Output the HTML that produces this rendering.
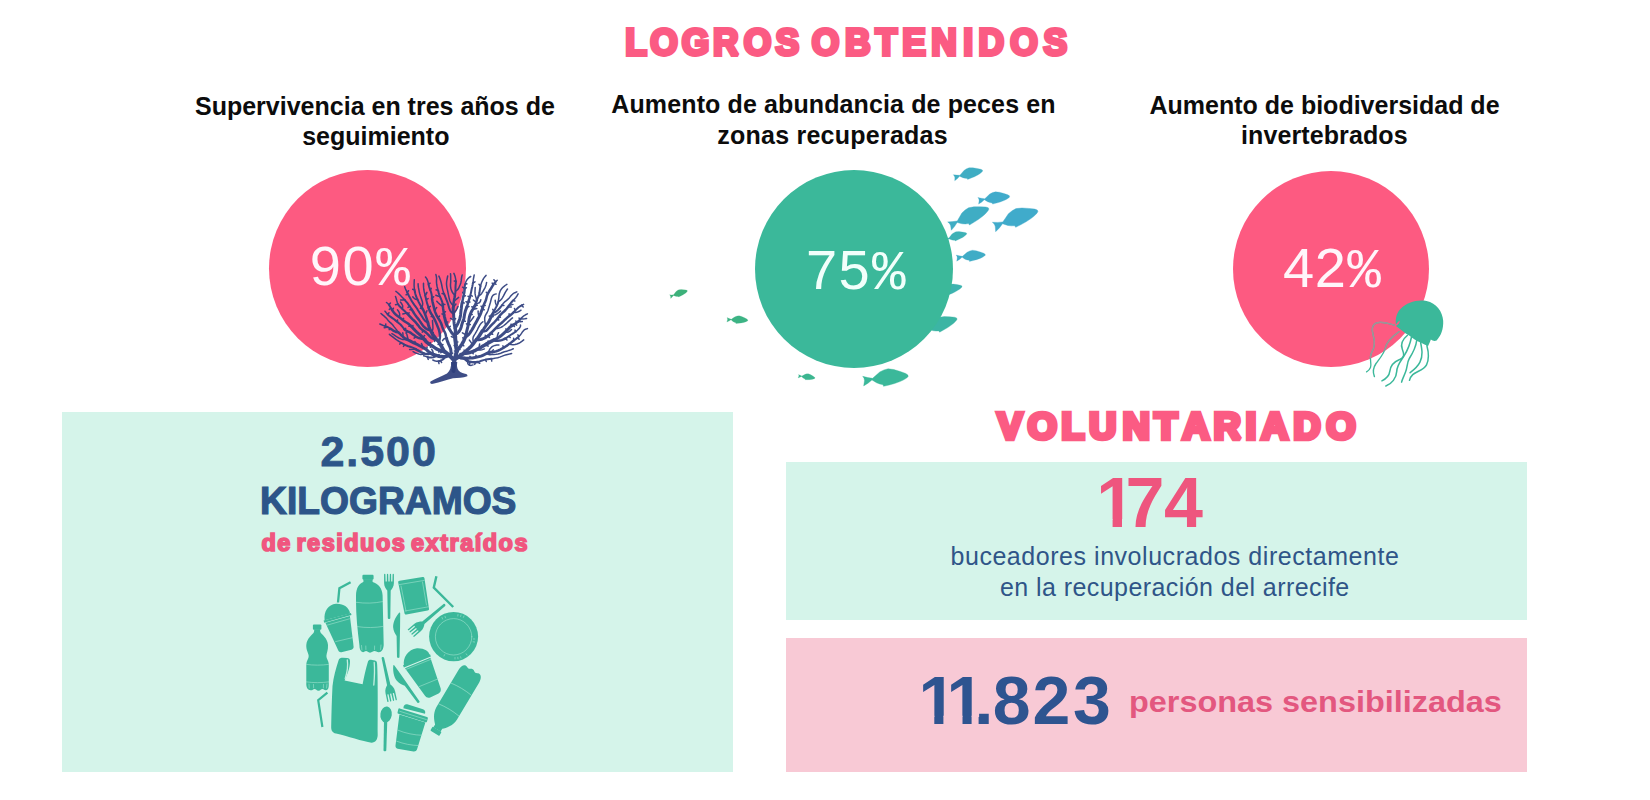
<!DOCTYPE html>
<html lang="es">
<head>
<meta charset="utf-8">
<title>Logros obtenidos</title>
<style>
html,body{margin:0;padding:0;background:#fff;}
body{width:1650px;height:800px;position:relative;overflow:hidden;font-family:"Liberation Sans",sans-serif;}
.abs{position:absolute;}
.t{position:absolute;white-space:nowrap;line-height:1;margin:0;padding:0;transform-origin:0 0;}
.box{position:absolute;}
.circ{position:absolute;border-radius:50%;}
.h{font-weight:bold;color:#fb5b83;-webkit-text-stroke:1.2px #fb5b83;}
.sub{font-weight:bold;color:#0c0c0c;font-size:25px;}
.pct{color:#fff5fa;font-size:56px;}
.pct i{font-style:normal;font-family:"Liberation Mono",monospace;letter-spacing:0;}
</style>
</head>
<body>
<!-- boxes -->
<div class="box" id="boxL" style="left:62px;top:412px;width:671px;height:360px;background:#d5f4ea;"></div>
<div class="box" id="boxR1" style="left:786px;top:462px;width:741px;height:158px;background:#d5f4ea;"></div>
<div class="box" id="boxR2" style="left:786px;top:638px;width:741px;height:134px;background:#f8c9d5;"></div>

<svg class="abs" id="fish" style="left:0;top:0" width="1650" height="800" viewBox="0 0 1650 800">
<path d="M0.0,0.0L11.3,2.9L21.8,4.5L28.6,-1.5L37.6,-9.7L46.8,-14.1L56.0,-16.6L68.7,-14.9L82.9,-10.5L94.9,-6.1L99.6,-2.8L100.1,0.6L96.9,3.8L89.3,8.4L82.1,11.6L70.2,15.9L58.6,19.1L45.9,22.1L44.8,18.4L37.4,16.9L30.4,14.2L20.4,8.0L11.7,15.2L2.1,21.1L3.4,13.3L3.9,9.1L2.8,4.5Z" fill="#3fadc3" stroke="#3fadc3" stroke-width="0.8" stroke-linejoin="round" transform="translate(953.3,174.7) rotate(-7.4) scale(0.296)"/>
<path d="M0.0,0.0L11.3,2.9L21.8,4.5L28.6,-1.5L37.6,-9.7L46.8,-14.1L56.0,-16.6L68.7,-14.9L82.9,-10.5L94.9,-6.1L99.6,-2.8L100.1,0.6L96.9,3.8L89.3,8.4L82.1,11.6L70.2,15.9L58.6,19.1L45.9,22.1L44.8,18.4L37.4,16.9L30.4,14.2L20.4,8.0L11.7,15.2L2.1,21.1L3.4,13.3L3.9,9.1L2.8,4.5Z" fill="#40abcb" stroke="#40abcb" stroke-width="0.8" stroke-linejoin="round" transform="translate(977.8,197.4) rotate(-1.2) scale(0.318)"/>
<path d="M0.0,0.0L11.3,2.9L21.8,4.5L28.6,-1.5L37.6,-9.7L46.8,-14.1L56.0,-16.6L68.7,-14.9L82.9,-10.5L94.9,-6.1L99.6,-2.8L100.1,0.6L96.9,3.8L89.3,8.4L82.1,11.6L70.2,15.9L58.6,19.1L45.9,22.1L44.8,18.4L37.4,16.9L30.4,14.2L20.4,8.0L11.7,15.2L2.1,21.1L3.4,13.3L3.9,9.1L2.8,4.5Z" fill="#3fadc4" stroke="#3fadc4" stroke-width="0.8" stroke-linejoin="round" transform="translate(947.7,221.9) rotate(-17.6) scale(0.431)"/>
<path d="M0.0,0.0L11.3,2.9L21.8,4.5L28.6,-1.5L37.6,-9.7L46.8,-14.1L56.0,-16.6L68.7,-14.9L82.9,-10.5L94.9,-6.1L99.6,-2.8L100.1,0.6L96.9,3.8L89.3,8.4L82.1,11.6L70.2,15.9L58.6,19.1L45.9,22.1L44.8,18.4L37.4,16.9L30.4,14.2L20.4,8.0L11.7,15.2L2.1,21.1L3.4,13.3L3.9,9.1L2.8,4.5Z" fill="#40abcb" stroke="#40abcb" stroke-width="0.8" stroke-linejoin="round" transform="translate(992.4,222.3) rotate(-13.6) scale(0.467)"/>
<path d="M0.0,0.0L11.3,2.9L21.8,4.5L28.6,-1.5L37.6,-9.7L46.8,-14.1L56.0,-16.6L68.7,-14.9L82.9,-10.5L94.9,-6.1L99.6,-2.8L100.1,0.6L96.9,3.8L89.3,8.4L82.1,11.6L70.2,15.9L58.6,19.1L45.9,22.1L44.8,18.4L37.4,16.9L30.4,14.2L20.4,8.0L11.7,15.2L2.1,21.1L3.4,13.3L3.9,9.1L2.8,4.5Z" fill="#3eb1b6" stroke="#3eb1b6" stroke-width="0.8" stroke-linejoin="round" transform="translate(943.7,237.8) rotate(-10) scale(0.234)"/>
<path d="M0.0,0.0L11.3,2.9L21.8,4.5L28.6,-1.5L37.6,-9.7L46.8,-14.1L56.0,-16.6L68.7,-14.9L82.9,-10.5L94.9,-6.1L99.6,-2.8L100.1,0.6L96.9,3.8L89.3,8.4L82.1,11.6L70.2,15.9L58.6,19.1L45.9,22.1L44.8,18.4L37.4,16.9L30.4,14.2L20.4,8.0L11.7,15.2L2.1,21.1L3.4,13.3L3.9,9.1L2.8,4.5Z" fill="#40acc6" stroke="#40acc6" stroke-width="0.8" stroke-linejoin="round" transform="translate(956.1,255.0) rotate(0) scale(0.292)"/>
<path d="M0.0,0.0L11.3,2.9L21.8,4.5L28.6,-1.5L37.6,-9.7L46.8,-14.1L56.0,-16.6L68.7,-14.9L82.9,-10.5L94.9,-6.1L99.6,-2.8L100.1,0.6L96.9,3.8L89.3,8.4L82.1,11.6L70.2,15.9L58.6,19.1L45.9,22.1L44.8,18.4L37.4,16.9L30.4,14.2L20.4,8.0L11.7,15.2L2.1,21.1L3.4,13.3L3.9,9.1L2.8,4.5Z" fill="#3db3af" stroke="#3db3af" stroke-width="0.8" stroke-linejoin="round" transform="translate(935.9,291.1) rotate(-10) scale(0.265)"/>
<path d="M0.0,0.0L11.3,2.9L21.8,4.5L28.6,-1.5L37.6,-9.7L46.8,-14.1L56.0,-16.6L68.7,-14.9L82.9,-10.5L94.9,-6.1L99.6,-2.8L100.1,0.6L96.9,3.8L89.3,8.4L82.1,11.6L70.2,15.9L58.6,19.1L45.9,22.1L44.8,18.4L37.4,16.9L30.4,14.2L20.4,8.0L11.7,15.2L2.1,21.1L3.4,13.3L3.9,9.1L2.8,4.5Z" fill="#3cb5a4" stroke="#3cb5a4" stroke-width="0.8" stroke-linejoin="round" transform="translate(920.9,328.6) rotate(-15) scale(0.374)"/>
<path d="M0.0,0.0L11.3,2.9L21.8,4.5L28.6,-1.5L37.6,-9.7L46.8,-14.1L56.0,-16.6L68.7,-14.9L82.9,-10.5L94.9,-6.1L99.6,-2.8L100.1,0.6L96.9,3.8L89.3,8.4L82.1,11.6L70.2,15.9L58.6,19.1L45.9,22.1L44.8,18.4L37.4,16.9L30.4,14.2L20.4,8.0L11.7,15.2L2.1,21.1L3.4,13.3L3.9,9.1L2.8,4.5Z" fill="#3db17a" stroke="#3db17a" stroke-width="0.8" stroke-linejoin="round" transform="translate(669.5,294.8) rotate(-12) scale(0.183)"/>
<path d="M0.0,0.0L11.3,2.9L21.8,4.5L28.6,-1.5L37.6,-9.7L46.8,-14.1L56.0,-16.6L68.7,-14.9L82.9,-10.5L94.9,-6.1L99.6,-2.8L100.1,0.6L96.9,3.8L89.3,8.4L82.1,11.6L70.2,15.9L58.6,19.1L45.9,22.1L44.8,18.4L37.4,16.9L30.4,14.2L20.4,8.0L11.7,15.2L2.1,21.1L3.4,13.3L3.9,9.1L2.8,4.5Z" fill="#3cb384" stroke="#3cb384" stroke-width="0.8" stroke-linejoin="round" transform="translate(727.0,317.6) rotate(8) scale(0.210)"/>
<path d="M0.0,0.0L11.3,2.9L21.8,4.5L28.6,-1.5L37.6,-9.7L46.8,-14.1L56.0,-16.6L68.7,-14.9L82.9,-10.5L94.9,-6.1L99.6,-2.8L100.1,0.6L96.9,3.8L89.3,8.4L82.1,11.6L70.2,15.9L58.6,19.1L45.9,22.1L44.8,18.4L37.4,16.9L30.4,14.2L20.4,8.0L11.7,15.2L2.1,21.1L3.4,13.3L3.9,9.1L2.8,4.5Z" fill="#3cb690" stroke="#3cb690" stroke-width="0.8" stroke-linejoin="round" transform="translate(798.5,374.4) rotate(13) scale(0.169)"/>
<path d="M0.0,0.0L11.3,2.9L21.8,4.5L28.6,-1.5L37.6,-9.7L46.8,-14.1L56.0,-16.6L68.7,-14.9L82.9,-10.5L94.9,-6.1L99.6,-2.8L100.1,0.6L96.9,3.8L89.3,8.4L82.1,11.6L70.2,15.9L58.6,19.1L45.9,22.1L44.8,18.4L37.4,16.9L30.4,14.2L20.4,8.0L11.7,15.2L2.1,21.1L3.4,13.3L3.9,9.1L2.8,4.5Z" fill="#3bb89a" stroke="#3bb89a" stroke-width="0.8" stroke-linejoin="round" transform="translate(862.7,376.3) rotate(0) scale(0.454)"/>
</svg>
<!-- circles -->
<div class="circ" id="c1" style="left:268.9px;top:170.3px;width:196.8px;height:196.8px;background:#fd5a81;"></div>
<div class="circ" id="c2" style="left:755px;top:170px;width:198.2px;height:198.2px;background:#3bb89a;"></div>
<div class="circ" id="c3" style="left:1233px;top:170.6px;width:196.2px;height:196.2px;background:#fd5a81;"></div>

<svg class="abs" id="coral" style="left:0;top:0" width="1650" height="800" viewBox="0 0 1650 800">
<g fill="none" stroke="#2f3f7d" stroke-linecap="round" stroke-linejoin="round" opacity="0.93">
<path stroke-width="1.5" d="M498.2,301.9 498.5,299.9 498.8,297.8 499.0,295.7 499.3,293.7 499.9,291.7 500.8,289.9 502.0,288.2 503.5,286.8 505.1,285.5 506.9,284.3M498.2,301.9 500.0,300.7 501.4,299.3 502.5,297.6 503.5,295.9 504.4,294.1 505.3,292.3 506.4,290.6 507.5,289.0M496.8,305.8 495.9,304.0 495.4,302.2 495.2,300.3M493.9,311.3 492.8,309.3M501.9,305.3 503.1,303.6 504.4,302.2 506.0,300.9 507.5,299.6 509.0,298.2 510.3,296.6 511.7,295.0 513.1,293.7 514.9,292.7 516.8,291.9M501.9,305.3 503.9,305.4M492.0,315.0 493.8,315.1 495.6,314.7 497.3,313.7 498.9,312.5 500.5,311.1M491.1,316.9 489.2,316.0M491.1,316.9 493.2,316.6M485.8,325.9 485.3,323.8 484.9,321.8 484.7,319.8 484.7,317.7 485.2,315.9 486.1,314.2 487.1,312.5 487.9,310.7 488.5,308.7 489.1,306.7 489.7,304.7 490.3,302.7 490.8,300.7 491.3,298.8 491.9,296.9 492.9,295.4 494.4,294.4 496.2,293.9M513.1,300.4 514.5,298.9 515.9,297.4 517.1,295.7 518.1,293.9M513.1,300.4 514.8,301.0M509.2,305.2 511.1,304.9 512.9,304.4M508.0,306.9 509.7,307.1 511.3,306.9M498.3,317.5 500.4,317.2M497.0,319.2 498.8,320.0M521.7,305.3 523.6,304.4M521.7,305.3 523.2,306.9M515.4,310.4 514.5,308.5M514.0,312.0 515.8,312.4 517.5,312.1 519.2,311.3 521.0,310.2M509.3,316.0 509.1,313.8M495.3,328.6 497.2,328.5 499.1,328.1 500.9,327.4 502.5,326.5 503.9,325.5 505.3,324.4 506.6,323.2 508.0,321.9 509.4,320.6 510.9,319.2 512.5,317.9M491.0,333.2 492.7,334.3M487.8,335.9 489.4,337.4M486.1,337.1 485.3,335.2M473.9,342.9 473.1,340.9 472.9,338.9 473.2,337.1 474.1,335.3 475.2,333.6 476.2,331.9 477.2,330.1 478.1,328.2 479.1,326.4 480.1,324.6 481.4,323.0 482.9,321.7M472.6,344.6 471.5,343.2 470.5,341.7 469.4,340.1M465.2,351.9 464.1,350.1M521.0,318.6 522.4,317.1 523.8,315.8 525.5,314.8 527.4,313.9M521.0,318.6 522.9,318.9 524.7,318.8 526.6,318.5M519.7,320.1 519.1,318.0M518.2,321.5 520.3,321.7 522.3,321.6M516.5,322.8 515.9,321.0M514.8,323.9 516.6,325.1M513.0,325.0 514.4,326.4M513.0,325.0 510.9,324.2M506.8,330.4 505.9,328.8M505.3,331.9 506.9,332.2 508.5,331.9 510.1,330.9 511.5,329.5M497.2,338.3 497.3,336.5 497.7,334.6 498.5,332.7M515.7,331.6 517.3,330.3 518.7,328.9 519.9,327.5 520.5,326.2 520.5,324.9M515.7,331.6 515.0,330.1M508.8,336.2 510.2,337.5M505.4,338.5 507.0,340.0M488.0,343.1 488.1,341.1M484.4,345.2 486.3,345.6 488.2,346.0M479.1,348.4 479.3,346.2 479.6,344.1M477.3,349.3 479.0,350.0 480.7,350.1 482.5,349.6 484.4,348.9M471.7,351.9 473.2,353.8M460.3,355.7 460.2,353.4M518.9,336.5 520.3,335.0 521.5,333.4 522.6,331.7 523.9,330.2 525.5,329.2 527.4,328.6M518.9,336.5 517.9,334.8M517.3,337.8 519.1,339.2M514.0,340.3 513.6,338.2M509.0,344.1 511.0,344.6 513.0,344.8 515.0,344.5 516.9,344.0 518.8,343.3 520.4,342.3 522.1,341.1 523.7,339.9M503.8,347.6 502.9,345.8M492.3,351.9 493.2,349.8M488.3,352.7 489.1,350.5 490.1,348.7 491.5,347.2 493.1,346.1 494.9,345.4 496.8,345.1 498.9,344.9M486.5,353.5 488.1,354.3 489.9,354.7 491.9,354.6 493.9,354.4 496.0,354.3 498.0,354.1 500.0,353.6 501.8,352.8 503.7,352.0 505.6,351.4 507.5,350.9 509.5,350.3 511.4,349.6 513.3,348.7M476.8,357.1 475.9,355.2M470.7,358.1 469.9,356.4M491.6,358.7 493.7,358.4 495.7,358.1 497.7,357.7 499.7,357.1 501.6,356.4 503.6,355.6 505.5,354.9 507.5,354.4 509.5,354.0 511.6,353.5M491.6,358.7 491.7,361.1M485.5,359.6 486.3,361.5M477.6,362.0 479.7,363.3M475.6,362.3 474.7,364.4M469.5,361.8 469.8,363.9M467.7,361.1 467.7,363.1 468.4,364.5 469.6,365.3 471.2,365.4 473.0,364.9M455.9,281.3 455.7,279.3 455.3,277.3 454.7,275.3 453.9,273.4M455.9,281.3 454.3,280.9M455.5,291.2 457.3,290.0 458.5,288.5 459.3,286.7 460.1,284.8 460.8,282.9 461.2,280.9 461.4,278.9 461.7,276.9 462.2,274.9M454.9,295.3 453.4,293.7 452.2,292.0 451.4,290.1 450.8,288.2 450.5,286.2 450.5,284.1 450.7,282.1 450.7,280.0 450.7,277.9 450.7,275.8 450.5,273.7M453.9,301.3 455.5,300.0 457.1,298.7 458.6,297.4M453.3,305.4 451.6,303.9 450.5,302.2 449.7,300.3 449.2,298.3 448.8,296.3 448.3,294.2 447.9,292.2 447.5,290.1 447.0,288.1 446.7,286.1 446.5,284.0 446.6,282.0 446.9,280.0 447.3,278.0 447.7,275.9M453.2,307.4 454.5,305.8 455.9,304.1M453.6,313.6 455.0,311.9 456.2,310.2 457.2,308.4 458.0,306.5M444.2,294.1 443.4,292.1 442.8,290.1 442.3,288.1 441.9,286.0 441.5,284.0 441.0,282.0 440.4,280.0 439.7,278.0 438.9,276.1M444.2,294.1 442.1,293.5M453.9,319.9 455.6,318.6M453.9,319.9 452.1,319.2 450.5,318.3M465.1,284.3 465.7,282.3 466.5,280.5 467.7,278.9 469.1,277.5 470.7,276.5M465.1,284.3 466.9,283.8M464.7,288.4 466.4,287.8M464.7,288.4 462.6,287.2M463.9,294.3 462.7,292.4M463.4,296.3 465.4,295.8M462.2,302.4 464.2,303.0M472.9,283.0 473.2,281.0 473.4,279.0 473.8,277.0 474.2,274.9M472.9,283.0 475.0,281.8M470.4,295.1 472.3,296.1M469.9,297.1 468.0,296.2M468.6,301.0 469.9,302.1M468.0,302.9 466.0,301.7M466.9,306.9 469.0,306.5M463.1,320.8 465.3,321.3M438.1,290.6 437.6,288.5 437.1,286.5 436.7,284.5 436.5,282.5 436.5,280.4 436.6,278.4 436.4,276.5 435.9,274.6M438.1,290.6 436.1,289.8M439.9,296.5 437.8,296.0 435.8,295.2M442.7,304.3 444.9,304.5M442.9,306.3 441.2,305.3 439.7,304.1 438.2,302.8 436.8,301.3M443.7,312.5 445.5,311.7M444.0,314.5 441.9,313.9M445.9,322.6 447.9,321.9M448.7,328.0 450.3,326.3M455.2,338.3 453.2,337.4 451.3,336.5M455.7,342.5 457.9,341.9M456.1,346.7 454.2,345.5M457.0,351.0 454.5,350.9M480.5,286.2 481.0,284.2 481.7,282.3 482.6,280.4 483.5,278.6 484.7,276.9 486.0,275.4M480.5,286.2 479.0,284.3M478.5,296.2 480.3,295.0 481.7,293.4 482.8,291.7 483.8,289.9 484.8,288.1 485.6,286.3 486.2,284.4 486.6,282.4M476.9,299.9 476.1,297.9 475.5,295.9 475.1,293.9 475.0,291.8 475.1,289.7 475.2,287.6M476.3,301.9 474.7,301.1 473.4,300.0M475.6,303.8 477.7,303.4 479.3,302.7 480.3,301.5 480.8,299.8M474.9,305.7 477.2,305.3M474.0,307.5 471.8,306.8M472.9,309.3 474.9,309.0 476.8,308.5M470.1,314.7 472.2,314.4M468.6,322.8 470.1,321.4 471.5,319.9 472.7,318.3 473.8,316.6M468.2,324.8 466.4,323.8M468.2,324.8 470.3,324.6M465.9,335.0 464.2,333.9 462.4,332.8M495.7,281.7 497.2,280.3M495.7,281.7 493.9,279.7M494.3,283.2 496.0,284.3M493.2,284.9 492.2,283.1M487.8,293.8 486.3,292.3M483.6,305.3 485.2,305.4M482.8,307.2 481.0,306.2M482.2,309.2 484.2,309.7M479.0,316.9 478.5,314.9 478.2,312.9 478.1,310.9M464.6,338.9 462.7,337.9M461.8,344.4 463.8,345.8M458.0,349.3 460.0,349.4M414.6,290.1 414.3,288.0 414.1,285.9 414.1,283.9 414.2,281.8 414.3,279.7M414.6,290.1 412.7,289.3M417.7,299.8 415.8,299.3 414.2,298.3 412.8,296.9M421.6,307.1 422.5,305.5 422.7,303.7 422.4,301.8 421.8,299.9 421.1,297.9 420.4,295.9 419.8,294.0 419.3,292.0 418.9,289.9 418.5,287.9 418.2,285.8 418.1,283.7M422.6,308.9 420.5,308.3M425.2,314.5 426.1,312.6 426.9,310.7M407.2,292.5 406.3,290.6 405.4,288.7 404.7,286.7M407.2,292.5 408.5,290.7M408.1,294.3 406.1,294.8M404.6,299.7 403.2,298.2 401.7,296.7 400.3,295.3 398.9,293.9 397.4,292.5 395.9,291.4M404.6,299.7 402.7,299.9 400.6,300.0M409.8,306.3 408.0,307.4M412.0,309.8 409.9,309.8M431.4,332.1 432.4,330.6 432.9,328.8 432.9,326.8 432.8,324.8 432.6,322.7 432.5,320.6M432.4,334.0 433.3,332.3M398.0,304.2 397.3,302.4 396.7,300.5 396.2,298.5 395.5,296.5M398.0,304.2 395.5,304.7M402.2,308.8 402.7,307.1 402.6,305.5 401.7,303.8 400.5,302.1M406.7,313.1 404.8,313.5 402.8,313.9M408.2,314.6 409.0,312.8M423.8,330.8 422.2,332.1M434.6,339.1 434.6,341.4M425.2,295.5 424.7,293.5 424.2,291.5 423.8,289.5 423.6,287.4 423.5,285.4 423.5,283.3M425.2,295.5 426.2,294.1 426.9,292.4M426.2,299.6 428.1,298.6M428.5,307.6 430.3,306.3M433.1,316.7 431.2,316.6M440.0,343.7 438.1,344.5M441.0,345.5 443.0,344.5M389.0,304.8 387.8,303.5 386.5,302.5M389.0,304.8 390.4,303.1M391.0,308.2 389.3,309.4M392.1,310.0 393.4,308.2M399.3,317.3 399.7,315.2 399.5,313.2 398.7,311.5 397.5,309.9M402.6,319.9 403.6,318.3M410.9,326.0 408.8,326.2M412.4,327.5 412.9,325.5M422.8,337.5 424.6,335.6M387.7,314.4 386.3,312.8 385.0,311.2M387.7,314.4 389.0,312.8M397.3,321.9 397.5,320.1M404.4,329.2 405.7,328.4M407.6,331.4 405.9,333.0M416.1,336.8 414.1,338.1M425.3,340.7 425.9,339.1M430.0,344.7 430.4,342.7M431.8,345.8 430.4,347.2M438.9,350.0 438.9,352.3M442.6,351.1 440.8,352.8M385.4,326.2 383.4,325.5 381.6,324.8 379.8,324.0M385.4,326.2 385.8,324.0M387.3,326.9 385.8,327.5 384.2,327.7M390.9,328.9 389.2,329.6M398.6,332.5 397.4,331.0 396.2,329.4 395.0,327.9 393.8,326.4 392.6,324.8 391.2,323.4 389.8,322.1 388.4,320.7 387.1,319.1 385.7,317.6 384.2,316.2 382.6,314.9 381.0,313.5M402.9,336.7 403.0,334.8 402.8,332.8M406.2,339.1 404.5,339.5 402.6,339.5 400.8,338.9 398.9,338.0 397.1,337.0 395.4,335.8 393.7,334.7 391.9,333.7M408.1,340.0 407.8,338.1 407.3,336.1 406.8,334.1M415.5,343.6 414.9,341.4M422.8,347.4 422.3,345.4 421.5,343.5M426.3,349.6 427.1,347.3M401.0,342.7 399.3,341.6 397.6,340.5 395.9,339.3 394.3,338.1 392.7,336.8 391.0,335.6 389.4,334.3M401.0,342.7 399.8,344.1M404.6,344.7 403.5,346.4M415.6,349.1 413.5,349.3 411.5,349.4 409.6,349.5M424.8,353.7 422.8,354.3 420.8,354.4 418.8,354.0 416.8,353.4 414.9,352.7 413.1,351.7M433.0,354.3 433.1,352.5 432.7,350.8 431.7,349.3M427.5,357.0 425.6,356.4 423.7,355.8M427.5,357.0 428.2,359.4M438.9,356.2 439.0,354.4M438.4,361.2 436.5,361.3 434.6,360.8 432.8,360.0M438.4,361.2 439.0,363.6M440.4,360.7 441.6,362.5M428.5,284.2 428.1,282.3 427.5,280.4 426.7,278.6 425.5,277.0M428.5,284.2 430.1,283.2M430.3,290.1 431.2,288.4M432.0,298.0 433.6,296.8M434.6,310.2 435.7,308.9 436.7,307.5M437.9,317.7 439.5,316.1M446.5,338.3 444.7,338.5 443.4,339.3 442.6,340.6M450.8,354.1 452.7,353.1"/>
<path stroke-width="2.0" d="M493.9,311.3 494.9,309.4 495.9,307.6 496.8,305.8 497.7,303.9 498.2,301.9M492.9,313.1 494.8,312.4 496.5,311.3 498.0,310.0 499.4,308.5 500.7,307.0 501.9,305.3M508.0,306.9 509.2,305.2 510.4,303.6 511.7,302.0 513.1,300.4M514.0,312.0 515.4,310.4 516.8,308.9 518.3,307.5 520.0,306.3 521.7,305.3M518.2,321.5 519.7,320.1 521.0,318.6M505.4,338.5 507.1,337.4 508.8,336.2 510.5,335.0 512.3,333.9 514.0,332.8 515.7,331.6M514.0,340.3 515.7,339.1 517.3,337.8 518.9,336.5M477.6,362.0 479.6,361.5 481.5,360.7 483.5,360.1 485.5,359.6 487.5,359.3 489.6,359.0 491.6,358.7M454.9,295.3 455.3,293.3 455.5,291.2 455.5,289.2 455.5,287.2 455.6,285.2 455.8,283.3 455.9,281.3M453.6,313.6 452.0,312.7 450.7,311.4 449.8,309.7 449.1,307.8 448.5,305.8 447.9,303.8 447.3,301.8 446.5,299.9 445.7,298.0 445.0,296.0 444.2,294.1M464.7,288.4 464.8,286.3 465.1,284.3M469.9,297.1 470.4,295.1 470.9,293.1 471.3,291.0 471.7,289.0 472.2,287.0 472.6,285.0 472.9,283.0M442.7,304.3 442.3,302.2 441.6,300.3 440.8,298.4 439.9,296.5 439.2,294.6 438.6,292.6 438.1,290.6M476.9,299.9 477.7,298.1 478.5,296.2 479.1,294.3 479.5,292.3 479.8,290.3 480.1,288.2 480.5,286.2M493.2,284.9 494.3,283.2 495.7,281.7M421.6,307.1 420.5,305.4 419.5,303.6 418.5,301.7 417.7,299.8 416.8,297.9 416.0,296.0 415.4,294.1 414.9,292.1 414.6,290.1M427.8,322.4 426.1,321.7 424.7,320.5 423.5,318.9 422.4,317.1 421.3,315.4 420.2,313.7 419.1,312.0 418.0,310.3 417.0,308.5 415.8,306.8 414.5,305.1 413.3,303.4 412.2,301.7 411.1,299.9 410.1,298.0 409.1,296.2 408.1,294.3 407.2,292.5M412.0,309.8 410.9,308.0 409.8,306.3 408.5,304.6 407.3,302.9 405.9,301.3 404.6,299.7M406.7,313.1 405.2,311.6 403.7,310.2 402.2,308.8 400.6,307.3 399.2,305.9 398.0,304.2M428.5,307.6 427.9,305.7 427.2,303.7 426.7,301.7 426.2,299.6 425.7,297.6 425.2,295.5M392.1,310.0 391.0,308.2 390.0,306.5 389.0,304.8M404.4,329.2 403.1,327.7 401.8,326.0 400.5,324.5 398.9,323.2 397.3,321.9 395.7,320.6 394.1,319.3 392.4,318.1 390.7,316.9 389.1,315.8 387.7,314.4M390.9,328.9 389.1,327.8 387.3,326.9 385.4,326.2M415.6,349.1 413.9,348.2 412.0,347.4 410.2,346.8 408.3,346.2 406.4,345.5 404.6,344.7 402.8,343.7 401.0,342.7M436.9,355.6 435.2,356.5 433.3,357.2 431.4,357.6 429.4,357.5 427.5,357.0M445.0,356.7 443.8,358.6 442.2,359.9 440.4,360.7 438.4,361.2M432.0,298.0 431.8,296.0 431.5,293.9 431.0,292.0 430.3,290.1 429.6,288.2 429.0,286.2 428.5,284.2"/>
<path stroke-width="2.5" d="M492.0,315.0 492.9,313.1 493.9,311.3M482.3,331.0 484.2,331.3 485.9,330.9 487.3,329.8 488.6,328.3 490.0,326.7 491.4,325.2 492.9,323.7 494.3,322.3 495.7,320.7 497.0,319.2 498.3,317.5 499.6,315.9 500.9,314.3 502.4,312.9 504.0,311.5 505.5,310.0 506.8,308.5 508.0,306.9M491.0,333.2 492.4,331.7 493.9,330.1 495.3,328.6 496.8,327.1 498.3,325.7 499.9,324.3 501.5,323.0 503.0,321.6 504.5,320.1 506.1,318.7 507.6,317.3 509.3,316.0 510.9,314.7 512.5,313.4 514.0,312.0M513.0,325.0 514.8,323.9 516.5,322.8 518.2,321.5M493.5,340.2 495.6,340.7 497.7,340.8 499.7,340.6 501.7,340.1 503.5,339.4 505.4,338.5M492.3,351.9 494.3,351.7 496.3,351.2 498.3,350.5 500.2,349.6 502.0,348.6 503.8,347.6 505.6,346.5 507.4,345.4 509.0,344.1 510.7,342.9 512.3,341.6 514.0,340.3M467.7,361.1 469.5,361.8 471.5,362.1 473.6,362.2 475.6,362.3 477.6,362.0M453.2,307.4 453.3,305.4 453.6,303.3 453.9,301.3 454.2,299.3 454.6,297.3 454.9,295.3M462.2,302.4 462.6,300.3 463.0,298.3 463.4,296.3 463.9,294.3 464.3,292.4 464.5,290.4 464.7,288.4M466.9,306.9 467.5,304.9 468.0,302.9 468.6,301.0 469.2,299.1 469.9,297.1M444.0,314.5 443.7,312.5 443.4,310.4 443.1,308.4 442.9,306.3 442.7,304.3M474.9,305.7 475.6,303.8 476.3,301.9 476.9,299.9M482.8,307.2 483.6,305.3 484.4,303.4 485.3,301.6 486.0,299.7 486.5,297.7 487.0,295.7 487.8,293.8 488.8,292.0 489.9,290.2 491.0,288.5 492.1,286.7 493.2,284.9M427.8,322.4 427.2,320.4 426.6,318.4 425.9,316.4 425.2,314.5 424.4,312.5 423.6,310.7 422.6,308.9 421.6,307.1M430.4,330.3 428.6,329.9 426.9,329.1 425.3,328.0 423.8,326.6 422.5,325.0 421.3,323.3 420.2,321.6 419.0,319.9 417.8,318.4 416.5,316.8 415.3,315.1 414.1,313.4 413.1,311.6 412.0,309.8M434.6,339.1 432.9,338.6 431.2,337.7 429.8,336.4 428.4,334.8 426.9,333.4 425.4,332.0 423.8,330.8 422.1,329.7 420.6,328.3 419.2,326.8 417.9,325.1 416.6,323.5 415.3,321.9 413.9,320.5 412.4,319.1 411.0,317.6 409.6,316.1 408.2,314.6 406.7,313.1M438.9,342.0 439.5,339.9 439.8,337.9 440.0,335.8 439.8,333.8 439.4,331.8 438.9,329.8 438.2,327.9 437.4,326.0 436.6,324.1 435.9,322.2 435.0,320.3 434.1,318.5 433.1,316.7 432.0,314.9 430.9,313.2 430.0,311.4 429.2,309.6 428.5,307.6M410.9,326.0 409.4,324.6 407.7,323.3 406.0,322.2 404.2,321.1 402.6,319.9 401.0,318.5 399.3,317.3 397.6,316.1 396.0,314.8 394.6,313.4 393.3,311.7 392.1,310.0M424.0,339.1 421.9,338.7 419.9,338.3 418.0,337.7 416.1,336.8 414.5,335.6 412.9,334.4 411.2,333.2 409.5,332.2 407.6,331.4 405.9,330.5 404.4,329.2M406.2,339.1 404.5,338.0 402.9,336.7 401.4,335.3 400.0,333.9 398.6,332.5 396.3,332.0 394.4,331.2 392.6,330.1 390.9,328.9M431.1,353.4 428.9,353.9 426.8,354.0 424.8,353.7 422.9,353.0 421.0,352.2 419.2,351.2 417.4,350.2 415.6,349.1M446.5,338.3 446.0,336.3 445.6,334.3 444.9,332.4 443.9,330.7 443.0,328.8 442.3,326.9 441.7,325.0 441.0,323.0 440.0,321.2 439.0,319.4 437.9,317.7 436.8,315.9 436.0,314.1 435.2,312.1 434.6,310.2 434.1,308.1 433.6,306.1 433.1,304.1 432.6,302.1 432.2,300.1 432.0,298.0"/>
<path stroke-width="3.0" d="M482.3,331.0 483.5,329.3 484.6,327.6 485.8,325.9 487.1,324.2 488.3,322.5 489.3,320.7 490.2,318.8 491.1,316.9 492.0,315.0M476.4,339.6 478.5,339.7 480.5,339.5 482.4,339.0 484.3,338.1 486.1,337.1 487.8,335.9 489.4,334.6 491.0,333.2M493.5,340.2 495.3,339.3 497.2,338.3 499.0,337.3 500.7,336.1 502.3,334.7 503.8,333.3 505.3,331.9 506.8,330.4 508.2,328.9 509.6,327.4 511.2,326.1 513.0,325.0M464.5,358.3 466.6,358.2 468.6,358.2 470.7,358.1 472.7,357.9 474.8,357.6 476.8,357.1 478.9,356.6 480.9,356.1 482.8,355.4 484.6,354.5 486.5,353.5 488.3,352.7 490.3,352.2 492.3,351.9M464.5,358.3 466.1,359.9 467.7,361.1M455.1,328.1 454.6,326.1 454.2,324.0 454.0,321.9 453.9,319.9 453.8,317.8 453.7,315.7 453.6,313.6 453.3,311.5 453.2,309.5 453.2,307.4M455.1,328.1 456.4,326.3 457.4,324.5 458.3,322.6 459.1,320.7 459.8,318.7 460.3,316.7 460.6,314.7 460.8,312.6 461.0,310.5 461.3,308.5 461.5,306.4 461.8,304.4 462.2,302.4M455.4,334.2 457.2,333.3 458.6,332.0 459.8,330.4 460.7,328.6 461.3,326.7 461.8,324.7 462.4,322.8 463.1,320.8 463.8,318.9 464.2,316.9 464.5,314.8 464.9,312.8 465.4,310.8 466.1,308.9 466.9,306.9M455.2,336.3 453.5,334.8 452.1,333.3 450.9,331.5 449.8,329.7 448.7,328.0 447.6,326.3 446.6,324.5 445.9,322.6 445.4,320.6 444.9,318.6 444.4,316.6 444.0,314.5M465.4,337.0 465.9,335.0 466.3,333.0 466.8,330.9 467.3,328.9 467.8,326.9 468.2,324.8 468.6,322.8 468.8,320.7 469.1,318.7 469.5,316.6 470.1,314.7 470.9,312.7 471.8,311.0 472.9,309.3 474.0,307.5 474.9,305.7M465.4,337.0 467.1,336.0 468.5,334.7 469.8,333.1 470.9,331.4 472.0,329.7 473.1,327.9 474.1,326.0 475.0,324.2 476.0,322.4 477.1,320.5 478.0,318.7 479.0,316.9 480.0,315.0 480.8,313.1 481.5,311.1 482.2,309.2 482.8,307.2M432.4,334.0 431.4,332.1 430.4,330.3 429.6,328.4 428.9,326.4 428.3,324.4 427.8,322.4M436.3,339.5 434.6,339.1M424.0,339.1 422.8,337.5 421.4,336.1 419.9,334.7 418.2,333.4 416.7,332.0 415.2,330.5 413.8,329.0 412.4,327.5 410.9,326.0M431.1,353.4 429.4,352.3 427.9,351.0 426.3,349.6 424.6,348.4 422.8,347.4 421.0,346.4 419.1,345.5 417.3,344.5 415.5,343.6 413.6,342.8 411.8,341.9 410.0,340.9 408.1,340.0 406.2,339.1M450.4,356.4 450.8,354.1 451.0,352.0 450.8,349.9 450.3,348.0 449.5,346.0 448.6,344.1 447.8,342.2 447.1,340.2 446.5,338.3"/>
<path stroke-width="3.5" d="M463.6,353.3 465.2,351.9 466.7,350.4 468.3,349.0 469.8,347.6 471.3,346.2 472.6,344.6 473.9,342.9 475.1,341.3 476.4,339.6 477.7,338.0 479.0,336.3 480.1,334.5 481.2,332.8 482.3,331.0M463.6,353.3 465.7,353.3 467.8,353.0 469.8,352.5 471.7,351.9 473.6,351.2 475.5,350.3 477.3,349.3 479.1,348.4 480.9,347.4 482.6,346.3 484.4,345.2 486.1,344.1 488.0,343.1 489.8,342.1 491.7,341.1 493.5,340.2M458.6,356.9 460.6,357.7 462.6,358.1 464.5,358.3M455.2,336.3 455.4,334.2 455.5,332.2 455.5,330.1 455.1,328.1M457.0,351.0 458.0,349.3 459.3,347.6 460.6,346.1 461.8,344.4 462.8,342.6 463.8,340.8 464.6,338.9 465.4,337.0M444.3,351.6 443.2,349.4 442.1,347.4 441.0,345.5 440.0,343.7 438.9,342.0 437.7,340.5 436.3,339.5 434.9,337.4 433.6,335.7 432.4,334.0M444.3,351.6 442.6,351.1 440.8,350.7 438.9,350.0 437.0,349.2 435.3,348.1 433.5,346.9 431.8,345.8 430.0,344.7 428.3,343.5 426.7,342.2 425.3,340.7 424.0,339.1M448.9,355.1 447.0,356.1 445.0,356.7 443.0,356.8 440.9,356.6 438.9,356.2 436.9,355.6 434.9,355.0 433.0,354.3 431.1,353.4"/>
<path stroke-width="4.0" d="M453.5,371.0 453.8,367.0 453.7,363.0 454.4,361.0 454.9,359.0 456.8,358.0 458.6,356.9 460.3,355.7 462.0,354.5 463.6,353.3M454.9,359.0 455.4,357.0 455.8,354.9 456.3,352.9 457.0,351.0 456.4,348.8 456.1,346.7 455.9,344.6 455.7,342.5 455.4,340.4 455.2,338.3 455.2,336.3M454.4,361.0 453.2,359.4 451.8,357.9 450.4,356.4 448.9,355.1 447.4,353.7 445.9,352.5 444.3,351.6"/>
</g>
<path fill="#2f3f7d" opacity="0.93" d="M451,362 C451.5,367 450,371 447,373.5 C442,376.5 435,378.5 430.5,381.5 C429.5,383 431,384.3 433,383.8 C440,382.5 447,379.5 453,378.3 C458,378 463,377.6 467.3,376.2 C468,375 466.5,374 465,373.8 C461.5,373 458.5,371.5 457.5,368.5 C456.8,366 457,364 457.3,362 Z"/>
</svg>
<svg class="abs" id="jelly" style="left:1355px;top:290px" width="100" height="105" viewBox="0 0 762 800">
<clipPath id="cj"><circle cx="-182.1" cy="-162.3" r="746"/></clipPath>
<path d="M312,262C306,215 318,170 350,140C395,98 470,70 545,84C620,100 668,165 672,235C675,300 655,350 622,385C608,392 590,388 578,378C572,395 566,412 556,428C540,420 520,410 500,400C470,388 440,370 410,345C380,330 345,300 312,275C330,262 345,250 340,232C330,240 320,250 312,262Z" fill="#3bb89a"/>
<g fill="none" stroke="#3bb89a" stroke-linecap="round" stroke-width="11.5">
<path d="M300,268C260,255 200,238 165,250C130,262 125,300 140,350C155,400 150,440 125,480C105,520 130,560 118,590C110,610 98,618 88,624" stroke-width="10"/>
<path d="M335,318C290,350 240,390 232,440C225,480 190,520 160,560C140,590 135,630 148,660" stroke-width="10.5"/>
<path d="M400,345C370,370 345,410 360,450C375,490 380,510 340,530C290,550 270,580 265,620C260,660 230,680 205,692"/>
<path d="M430,360C420,410 400,460 375,500C350,540 320,570 318,620C316,670 280,715 235,732"/>
<path d="M470,385C465,430 440,480 415,520C395,555 400,590 385,625C372,660 360,680 355,702"/>
<path d="M500,400C510,450 520,500 495,550C475,590 440,615 420,630"/>
<path d="M548,425C560,470 570,520 545,570C525,610 470,620 440,645C425,660 418,672 415,688"/>
</g>
<g fill="none" stroke="#a39298" stroke-linecap="round" clip-path="url(#cj)">
<path d="M300,268C260,255 200,238 165,250C130,262 125,300 140,350C155,400 150,440 125,480C105,520 130,560 118,590C110,610 98,618 88,624" stroke-width="11"/>
<path d="M335,318C290,350 240,390 232,440C225,480 190,520 160,560C140,590 135,630 148,660" stroke-width="10.5"/>
</g></svg>
<!-- headings -->
<svg class="abs" id="heads" style="left:0;top:0" width="1650" height="800" viewBox="0 0 1650 800" font-family="Liberation Sans, sans-serif" font-weight="bold" fill="#fb5b83" stroke="#fb5b83" stroke-linejoin="miter" stroke-miterlimit="2">
<text id="title" transform="scale(0.9571,1)" x="653.4 679.4 712.4 745.0 777.0 810.2 836.9 848.1 883.0 914.8 942.7 973.0 1006.5 1022.5 1055.6 1090.3" y="55.1" font-size="37.0" stroke-width="3.8" xml:space="preserve">LOGROS OBTENIDOS</text>
<text id="vol" transform="scale(1.0324,1)" x="966.2 995.6 1028.2 1055.1 1087.4 1118.2 1145.5 1175.7 1206.6 1221.6 1253.0 1284.9" y="438.6" font-size="36.2" stroke-width="4.6" xml:space="preserve">VOLUNTARIADO</text>
</svg>

<!-- sub headings -->
<div class="t sub" id="s1l1" style="left:195px;top:93.5px;">Supervivencia en tres años de</div>
<div class="t sub" id="s1l2" style="left:302.2px;top:124.3px;">seguimiento</div>
<div class="t sub" id="s2l1" style="left:611.3px;top:92.3px;letter-spacing:0.12px;">Aumento de abundancia de peces en</div>
<div class="t sub" id="s2l2" style="left:717.2px;top:122.8px;letter-spacing:0.25px;">zonas recuperadas</div>
<div class="t sub" id="s3l1" style="left:1149.5px;top:92.8px;">Aumento de biodiversidad de</div>
<div class="t sub" id="s3l2" style="left:1241px;top:123.4px;letter-spacing:0.1px;">invertebrados</div>

<!-- percentages -->
<div class="t pct" id="p90" aria-label="90%" style="left:309.8px;top:237.5px;letter-spacing:1.6px;">90<i style="margin-left:1px">%</i></div>
<div class="t pct" id="p75" aria-label="75%" style="left:806px;top:241.6px;color:#f1fffb;letter-spacing:1.3px;">75<i style="margin-left:1px">%</i></div>
<div class="t pct" id="p42" aria-label="42%" style="left:1283px;top:240px;letter-spacing:0.5px;">42<i style="margin-left:1px">%</i></div>

<!-- left box text -->
<div class="t" id="n2500" style="left:320.4px;top:430.2px;font-size:43px;font-weight:bold;color:#2d5589;letter-spacing:1.95px;-webkit-text-stroke:0.9px #2d5589;">2.500</div>
<div class="t" id="kilo" style="left:260.2px;top:482.4px;font-size:38.6px;font-weight:bold;color:#2d5589;transform:scaleX(0.965);-webkit-text-stroke:1.2px #2d5589;">KILOGRAMOS</div>
<div class="t" id="resid" style="left:261.4px;top:531.6px;font-size:23.5px;font-weight:bold;color:#f0567f;-webkit-text-stroke:1.7px #f0567f;letter-spacing:1.5px;word-spacing:-3.4px;">de residuos extraídos</div>

<svg class="abs" id="trash" style="left:295px;top:565px" width="200" height="195" viewBox="0 0 200 195">
<g fill="#3bb89a" stroke="none">
<path d="M43,37.5L44.4,23.2L55.6,17.2" fill="none" stroke="#3bb89a" stroke-width="2.3" stroke-linejoin="miter"/>
<path d="M29.6,55.3C28.6,46 33,39.6 41,38.7C48,38.3 54,42 55.1,48.4Z"/>
<path d="M28.6,55.4L55.9,47.9L56.5,50.1L29.2,57.7Z"/>
<path d="M30.4,57.8L54.9,51L58.6,81.6C58.7,83.3 57.8,84.3 56.4,84.7L46.4,87.2C45,87.5 43.9,86.8 43.3,85.6Z"/>
<rect x="67.4" y="9.8" width="11.2" height="4.9" rx="1.1"/>
<path d="M68.4,14.2L77.6,14.2L77.6,17C83,18.5 87.3,23 87.6,30.5L88.7,80C88.4,84.6 86.6,87 84,87.3C82,87.5 81,86.1 79.5,86.1C78,86.1 77,87.7 75,87.7C73,87.7 72.5,86.1 71,86.1C70,86.1 69,87.4 67.5,87.1C65.4,86.6 64.5,84 64.4,80C62.5,65 61,50 61,36L61,30.5C61.2,23 64,18.5 68.4,17Z"/>
<path d="M-4.9,0.6C-4.9,-0.3 -3.6,-0.3 -3.6,0.6L-3.4,7.5L-2.2,7.5L-2.1,0.5C-2.1,-0.4 -0.8,-0.4 -0.8,0.5L-0.6,7.5L0.6,7.5L0.8,0.5C0.8,-0.4 2.1,-0.4 2.1,0.5L2.2,7.5L3.4,7.5L3.6,0.6C3.6,-0.3 4.9,-0.3 4.9,0.6L4.9,9C4.9,12.5 3,15 1.7,16.5L1.3,44C1.3,45.3 -1.1,45.3 -1.2,44L-1.7,16.5C-3,15 -4.9,12.5 -4.9,9Z" transform="translate(94,8.9)"/>
<path d="M103.2,17.4C103,16.3 103.6,15.9 104.6,15.7L127.6,11.9C128.8,11.8 129.3,12.3 129.5,13.4L134,43.8C134.1,45 133.7,45.4 132.6,45.6L111.4,49.5C110.3,49.7 109.7,49.3 109.5,48.2Z"/>
<path d="M141.4,11.2L138.8,22.6L158.2,42" fill="none" stroke="#3bb89a" stroke-width="2.4" stroke-linejoin="miter"/>
<path d="M1.2,0.2C-2.2,3.5 -5.2,9.5 -5.2,14.5C-5,18.5 -3,21.5 -1.7,23.5L-1.3,44.6C-1.2,45.8 1.1,45.8 1.2,44.6L1.8,13L1.9,1C1.9,0 1.6,-0.1 1.2,0.2Z" transform="translate(103.3,47.4)"/>
<path d="M-4.9,0.6C-4.9,-0.3 -3.6,-0.3 -3.6,0.6L-3.4,7.5L-2.2,7.5L-2.1,0.5C-2.1,-0.4 -0.8,-0.4 -0.8,0.5L-0.6,7.5L0.6,7.5L0.8,0.5C0.8,-0.4 2.1,-0.4 2.1,0.5L2.2,7.5L3.4,7.5L3.6,0.6C3.6,-0.3 4.9,-0.3 4.9,0.6L4.9,9C4.9,12.5 3,15 1.7,16.5L1.3,44C1.3,45.3 -1.1,45.3 -1.2,44L-1.7,16.5C-3,15 -4.9,12.5 -4.9,9Z" transform="translate(115.7,68.3) rotate(-130) scale(1,1.0)"/>
<ellipse cx="158.6" cy="71.6" rx="24.5" ry="24.7"/>
<rect x="17.9" y="59.6" width="8.5" height="5.2" rx="1"/>
<path d="M19.3,64.3L25,64.3L25.3,67C27,70 32.5,73 33,80C33.3,85 31.6,88 31.4,91C31.3,94 33.6,95.5 33.8,99L33.8,120C33.8,123 33,125 31,125.3C29.5,125.5 29,124 27.5,124C26,124 25.5,125.7 23.5,125.7C21.5,125.7 21,124 19.5,124C18,124 17.5,125.6 15.5,125.3C13,125 11.5,123 11.3,120L11.3,99C11.5,95.5 13.8,94 13.7,91C13.5,88 11,85 11.3,80C11.8,73 17.5,70 19,67Z"/>
<path d="M43.5,95.5C44,93.2 46,92.8 48,92.8L52,92.9C54,93 55,94 55,96C55.2,103 52,110 49.6,115.4L67.6,119.2C69,112 71,103 73,96.5C73.5,95 75,94.6 77,95L80,95.6C81.5,96 82,97 82.1,99C82.9,110 82.9,140 82.7,170C82.6,174.5 80.5,177.6 76.5,177.7C68,176.6 52,171.2 41,168.6C37,167.6 36,165 36.2,161C36.5,147 36.8,135 37.5,121C38.5,112 41,103 43.5,95.5Z"/>
<path d="M-4.9,0.6C-4.9,-0.3 -3.6,-0.3 -3.6,0.6L-3.4,7.5L-2.2,7.5L-2.1,0.5C-2.1,-0.4 -0.8,-0.4 -0.8,0.5L-0.6,7.5L0.6,7.5L0.8,0.5C0.8,-0.4 2.1,-0.4 2.1,0.5L2.2,7.5L3.4,7.5L3.6,0.6C3.6,-0.3 4.9,-0.3 4.9,0.6L4.9,9C4.9,12.5 3,15 1.7,16.5L1.3,44C1.3,45.3 -1.1,45.3 -1.2,44L-1.7,16.5C-3,15 -4.9,12.5 -4.9,9Z" transform="translate(97.2,136) rotate(167.8)"/>
<path d="M1.2,0.2C-2.2,3.5 -5.2,9.5 -5.2,14.5C-5,18.5 -3,21.5 -1.7,23.5L-1.3,44.6C-1.2,45.8 1.1,45.8 1.2,44.6L1.8,13L1.9,1C1.9,0 1.6,-0.1 1.2,0.2Z" transform="translate(97.3,100.8) rotate(-36)"/>
<path d="M109,100.7C107.4,93 113,84.2 122,83.2C129,82.9 134,86 134.7,90.3Z"/>
<path d="M108,100.2L135,89.2L135.9,91.4L108.9,102.5Z"/>
<path d="M110,103.2L135.4,92.8L145.7,123.6C146.2,125.8 145.4,127.6 143.6,128.6L135.2,132.5C133.2,133.2 131.2,132.6 130,130.8Z"/>
<g transform="translate(140,167.8) rotate(-149) scale(1.0,1.025)"><rect x="-5.2" y="-0.5" width="10.4" height="4.6" rx="0.9"/><path d="M-4.2,3.8L4.2,3.8L4.2,7C7,10 11.6,14.5 12,22L12.2,64C12.1,68.5 10.8,71.2 8.4,71.6C6.6,71.8 5.9,70.5 4.4,70.5C3,70.5 2.4,72.1 0.4,72.1C-1.6,72.1 -2.2,70.5 -3.6,70.5C-5,70.5 -5.8,71.8 -7.6,71.6C-10.2,71.2 -11.9,68.5 -12,64L-12,22C-11.6,14.5 -7,10 -4.2,7Z"/><path d="M-12,26C-4,27.2 4,27.2 12.1,26M-12,49.6C-4,50.8 4,50.8 12.2,49.6" fill="none" stroke="#a9e6d3" stroke-width="0.55"/></g>
<path d="M32.4,127.7L23.2,135.2L27.4,162" fill="none" stroke="#3bb89a" stroke-width="2.2" stroke-linejoin="miter"/>
<ellipse cx="91.1" cy="149.5" rx="5.7" ry="8.1" transform="rotate(8 91.1 149.5)"/>
<path d="M89,155L92.3,155.4L91.3,185.3C91.2,186.6 88.6,186.6 88.5,185.3Z"/>
<path d="M108.4,143.2C108.4,140.5 110,139 112.2,139.3L128,144.2C130,145 130.7,146.6 130,148.8Z"/>
<path d="M104.6,143.4L132,151.9C132.8,152.2 133,152.8 132.8,153.6L132,156.4C131.7,157.2 131.2,157.4 130.4,157.2L103.4,148.8C102.6,148.5 102.4,148 102.6,147.2L103.3,144.3C103.5,143.5 103.9,143.2 104.6,143.4Z"/>
<path d="M104.4,149.5L130.4,157.6L122,184.6C121.5,186.1 120,186.7 118.5,186.5L102.6,183.7C101,183.4 100.3,182.1 100.5,180.6Z"/>
</g>
<g fill="none" stroke="#a9e6d3" stroke-width="0.55" stroke-linecap="round">
<path d="M31.5,60.3L55.3,53.6M40.6,76.6L57.9,72.6"/>
<path d="M61.2,37.3C70,38.6 79,38.4 87.6,36.6M62.4,61.6C71,63 80,62.8 88.2,61.4"/>
<path d="M66.5,80.5L66.9,85M70.8,81L70.9,84.5M79.6,81L79.5,84.5M86,80L85.6,84.5"/>
<path d="M104.4,19.6L129.2,15.4M110,46L133.4,41.8M106,21L111,46M127.5,17L131.5,40"/>
<circle cx="158.6" cy="71.8" r="18.2"/>
<path d="M147,52.5L147.6,54M150,51.3L150.5,52.8M163,49.5L162.8,51M166,50L165.6,51.5M169,51L168.4,52.4M179.8,74L178.3,74M179.6,77L178.1,76.8M149,91L149.6,89.6M160,94L160,92.5M163,93.8L162.8,92.3M166,93.2L165.6,91.8M172,90L171.2,88.8"/>
<path d="M11.4,99.4C18,100.4 27,100.4 33.7,99.4M11.4,116.9C18,117.9 27,117.9 33.7,116.9"/>
<path d="M14,119L14.2,123M18.5,119.5L18.6,122.8M28.5,119.5L28.4,122.8M32,119L31.6,123"/>
<path d="M52.3,95C53.2,101 52,108 50.2,113.6M79.2,97.5C79.8,104 79.5,112 78.8,120" stroke="#c4eee0" stroke-width="1.3"/>
<path d="M110.6,104.6L136,94.3M124.2,121.6L143.2,113.8"/>
<path d="M103,165.2C111,168.5 119,170 127.2,170.3M101.6,176.2C109,179 116,180.3 123.8,180.6M104.8,146.3L131.4,154.6"/>
</g>
</svg>
<!-- right boxes text -->
<svg class="abs" id="nums" style="left:0;top:0" width="1650" height="800" viewBox="0 0 1650 800" font-family="Liberation Sans, sans-serif" font-weight="bold">
<clipPath id="cp_n174"><rect x="1086.3" y="457.4" width="147.7" height="61.5"/><rect x="1086.3" y="518.9" width="12.8" height="21.0"/><rect x="1112.6" y="518.9" width="9.4" height="21.0"/><rect x="1134.5" y="518.9" width="99.5" height="21.0"/></clipPath>
<text id="n174" clip-path="url(#cp_n174)" x="1096.3 1125.4 1164.0" y="527.4" font-size="70" fill="#ee557e">174</text>
<clipPath id="cp_n11823"><rect x="908.4" y="656.0" width="232.6" height="59.7"/><rect x="908.4" y="715.7" width="12.7" height="20.4"/><rect x="934.3" y="715.7" width="9.1" height="20.4"/><rect x="962.5" y="715.7" width="9.1" height="20.4"/><rect x="978.6" y="715.7" width="162.4" height="20.4"/></clipPath>
<text id="n11823" clip-path="url(#cp_n11823)" x="918.4 946.6 974.6 992.8 1032.6 1073.0" y="724.0" font-size="68" fill="#2e5490">11.823</text>
</svg>
<div class="t" id="buc1" style="left:950.5px;top:543.8px;font-size:25px;color:#2f5588;letter-spacing:0.54px;">buceadores involucrados directamente</div>
<div class="t" id="buc2" style="left:1000px;top:574.5px;font-size:25px;color:#2f5588;letter-spacing:0.43px;">en la recuperación del arrecife</div>

<div class="t" id="pers" style="left:1129px;top:687.3px;font-size:30px;font-weight:bold;color:#e3577f;transform:scaleX(1.08);">personas sensibilizadas</div>

</body>
</html>
